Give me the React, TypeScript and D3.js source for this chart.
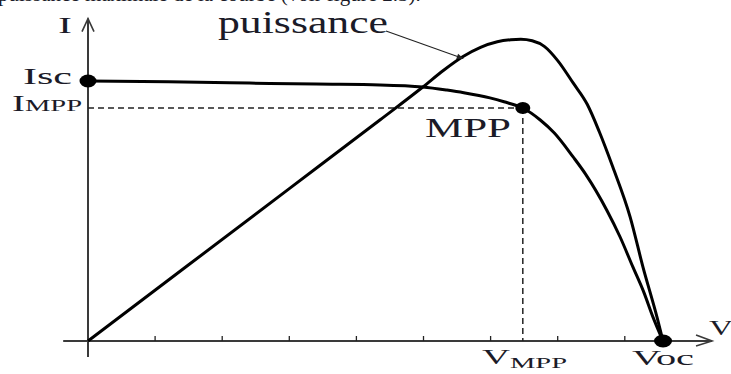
import React from "react";
import * as d3 from "d3";

// Normalised characteristic of a PV cell: voltage in tick units,
// current relative to Isc, power in its own units.
const ivVoltage = [0, 1.2, 2.41, 3.4, 4.35, 4.99, 5.35, 5.6, 5.99, 6.2, 6.48, 6.74, 6.95, 7.23, 7.42, 7.73, 7.93, 8.12, 8.28, 8.42, 8.57];
const ivCurrent = [1.0, 0.997, 0.992, 0.988, 0.985, 0.977, 0.965, 0.955, 0.935, 0.92, 0.896, 0.85, 0.8, 0.708, 0.64, 0.504, 0.4, 0.285, 0.19, 0.092, 0.0];

const pvVoltage = [0, 1.5, 3.0, 4.35, 4.99, 5.3, 5.59, 5.85, 6.1, 6.3, 6.45, 6.62, 6.8, 7.0, 7.23, 7.44, 7.62, 7.82, 8.08, 8.27, 8.48, 8.57];
const pvPower = [0, 1.5, 3.0, 4.35, 5.0, 5.33, 5.6, 5.78, 5.89, 5.93, 5.94, 5.91, 5.8, 5.52, 5.08, 4.66, 4.12, 3.43, 2.44, 1.46, 0.47, 0.0];

const tickValues = [1, 2, 3, 4, 5, 6, 7, 8];

const Isc = 1.0;
const Impp = 0.896;
const Vmpp = 6.48;
const Voc = 8.57;

const serif = "Liberation Serif, DejaVu Serif, serif";
const ink = "#1b1b28";

export default function App() {
  const width = 731;
  const height = 374;

  const x = d3.scaleLinear().domain([0, 1]).range([88, 155.1]);
  const yI = d3.scaleLinear().domain([0, 1]).range([341, 81]);
  const yP = d3.scaleLinear().domain([0, 1]).range([341, 290.2]);

  const ivLine = d3
    .line<number>()
    .x((_, i) => x(ivVoltage[i]))
    .y((d) => yI(d))
    .curve(d3.curveMonotoneX);

  const pvLine = d3
    .line<number>()
    .x((_, i) => x(pvVoltage[i]))
    .y((d) => yP(d))
    .curve(d3.curveMonotoneX);

  const x0 = x(0);
  const y0 = yI(0);
  const xLeft = x(-0.37);
  const xRight = x(9.3);
  const yTop = yI(1.24);
  const yBottom = yI(-0.062);

  return (
    <svg
      width={width}
      height={height}
      style={{ position: "absolute", left: 0, top: 0, background: "#fff" }}
    >
      <defs>
        <marker id="ptr" viewBox="0 0 10 10" refX="9" refY="5" markerWidth="9" markerHeight="7" orient="auto" markerUnits="userSpaceOnUse">
          <path d="M0,1 L10,5 L0,9 Z" fill="#222" />
        </marker>
      </defs>

      {/* running text of the page above the figure */}
      <text x={-2} y={1} style={{ fontFamily: serif }} fontSize={21} fill={ink}>
        puissance maximale de la courbe (voir figure 2.3).
      </text>

      {/* axes */}
      <g stroke="#3a3a3a" strokeWidth={2} fill="none">
        <line x1={xLeft} y1={y0} x2={xRight} y2={y0} />
        <line x1={x0} y1={yBottom} x2={x0} y2={yTop} />
        <path d={`M${xRight - 16},${y0 - 6} L${xRight},${y0} L${xRight - 16},${y0 + 5}`} strokeWidth={1.6} />
        <path d={`M${x0 - 6},${yTop + 13} L${x0},${yTop} L${x0 + 6},${yTop + 13}`} strokeWidth={1.6} />
      </g>
      <g stroke="#222" strokeWidth={1.3}>
        {tickValues.map((t) => (
          <line key={t} x1={x(t)} y1={y0} x2={x(t)} y2={y0 - 5} />
        ))}
      </g>

      {/* maximum power point guides */}
      <g stroke="#222" strokeWidth={1.5} strokeDasharray="6,4" fill="none">
        <line x1={x0} y1={yI(Impp)} x2={x(Vmpp)} y2={yI(Impp)} />
        <line x1={x(Vmpp)} y1={yI(Impp)} x2={x(Vmpp)} y2={y0} />
      </g>

      {/* curves */}
      <path d={pvLine(pvPower) || ""} fill="none" stroke="#000" strokeWidth={3} />
      <path d={ivLine(ivCurrent) || ""} fill="none" stroke="#000" strokeWidth={3} />

      {/* pointer to the power curve */}
      <line x1={386} y1={31} x2={x(5.59)} y2={yP(5.6) + 2} stroke="#222" strokeWidth={1.1} markerEnd="url(#ptr)" />

      {/* characteristic points */}
      <ellipse cx={x0} cy={yI(Isc)} rx={8.5} ry={6.5} fill="#000" />
      <ellipse cx={x(Vmpp)} cy={yI(Impp)} rx={7.5} ry={6} fill="#000" />
      <ellipse cx={x(Voc)} cy={y0} rx={9} ry={6.5} fill="#000" />

      {/* labels */}
      <g style={{ fontFamily: serif }} fill={ink}>
        <text x={58} y={33} fontSize={23} textLength={14} lengthAdjust="spacingAndGlyphs">I</text>
        <text x={218} y={33} fontSize={31} textLength={170} lengthAdjust="spacingAndGlyphs">puissance</text>
        <text x={23} y={84} fontSize={24} textLength={49} lengthAdjust="spacingAndGlyphs">Isc</text>
        <text x={12} y={111} fontSize={23} textLength={13} lengthAdjust="spacingAndGlyphs">I</text>
        <text x={25} y={111} fontSize={16} textLength={57} lengthAdjust="spacingAndGlyphs">MPP</text>
        <text x={425} y={137} fontSize={27} textLength={86} lengthAdjust="spacingAndGlyphs">MPP</text>
        <text x={482} y={364} fontSize={21} textLength={28} lengthAdjust="spacingAndGlyphs">V</text>
        <text x={510} y={368} fontSize={15} textLength={57} lengthAdjust="spacingAndGlyphs">MPP</text>
        <text x={632} y={365} fontSize={21} textLength={62} lengthAdjust="spacingAndGlyphs">Voc</text>
        <text x={709} y={335} fontSize={22} textLength={24} lengthAdjust="spacingAndGlyphs">V</text>
      </g>
    </svg>
  );
}
